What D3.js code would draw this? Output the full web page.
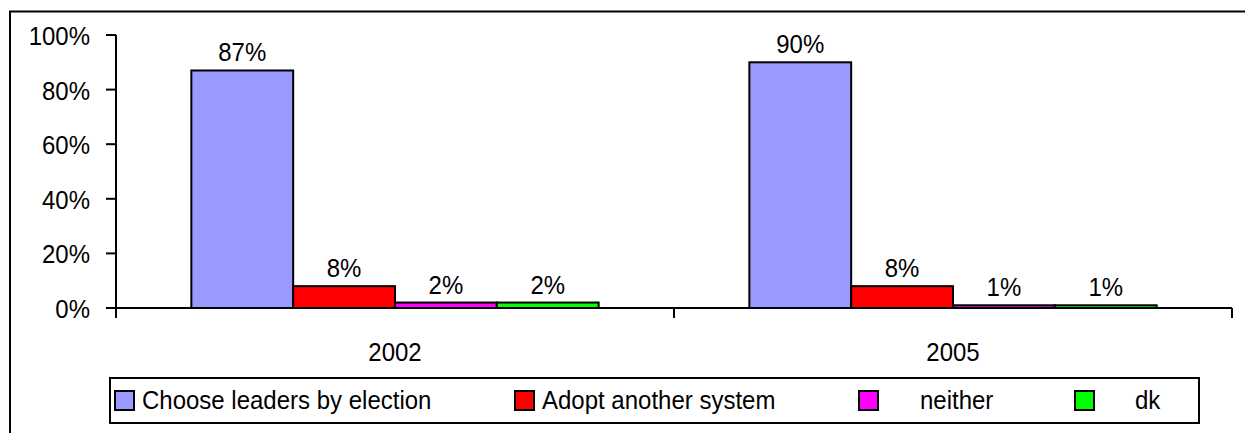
<!DOCTYPE html>
<html>
<head>
<meta charset="utf-8">
<script src="https://cdn.jsdelivr.net/npm/d3@7"></script>
<style>
  body { margin: 0; background: #fff; }
  text { font-family: "Liberation Sans", Arial, sans-serif; fill: #000; }
</style>
</head>
<body>
<div id="plotdiv"></div>
<script>
// Data
var years = ["2002", "2005"];
var seriesNames = ["Choose leaders by election", "Adopt another system", "neither", "dk"];
var seriesColors = ["#9999ff", "#ff0000", "#ff00ff", "#00ff00"];
var values2002 = [87, 8, 2, 2];
var values2005 = [90, 8, 1, 1];
var yTicks = [0, 20, 40, 60, 80, 100];

var valuesByYear = { "2002": values2002, "2005": values2005 };

// Figure size and plot area
var outerWidth = 1245;
var outerHeight = 433;
var plot = { left: 116, right: 1232, top: 35, bottom: 308 };
var fontSize = 24;
var stretch = 1.1;   // the original picture is slightly stretched vertically

var vis = d3.select("#plotdiv").append("svg")
  .attr("width", outerWidth)
  .attr("height", outerHeight);

// Outer frame (only left and top edges visible)
vis.append("path")
  .attr("d", "M10," + outerHeight + "V11.5H" + outerWidth)
  .attr("fill", "none")
  .attr("stroke", "#000")
  .attr("stroke-width", 2);

// Scales
var yScale = d3.scaleLinear().domain([0, 100]).range([plot.bottom, plot.top]);
var x0 = d3.scaleBand().domain(years).range([plot.left, plot.right]);
var x1 = d3.scaleBand().domain(seriesNames).range([0, x0.bandwidth()])
  .paddingInner(0).paddingOuter(0.74);

function stretchedText(sel, x, y) {
  return sel.attr("transform", "translate(" + x + "," + y + ") scale(1," + stretch + ")");
}

// Bars
years.forEach(function (yr) {
  var g = vis.append("g").attr("transform", "translate(" + x0(yr) + ",0)");
  var vals = valuesByYear[yr];
  g.selectAll("rect").data(vals).enter().append("rect")
    .attr("x", function (d, i) { return x1(seriesNames[i]); })
    .attr("y", function (d) { return yScale(d); })
    .attr("width", x1.bandwidth())
    .attr("height", function (d) { return yScale(0) - yScale(d); })
    .attr("fill", function (d, i) { return seriesColors[i]; })
    .attr("stroke", "#000")
    .attr("stroke-width", 2);
  g.selectAll("text.val").data(vals).enter().append("text")
    .attr("class", "val")
    .attr("text-anchor", "middle")
    .style("font-size", fontSize + "px")
    .each(function (d, i) {
      stretchedText(d3.select(this), x1(seriesNames[i]) + x1.bandwidth() / 2, yScale(d) - 9);
    })
    .text(function (d) { return d + "%"; });
});

// Y axis
var yAxis = vis.append("g").attr("transform", "translate(" + plot.left + ",0)");
yAxis.append("line")
  .attr("y1", plot.top).attr("y2", plot.bottom + 10)
  .attr("stroke", "#000").attr("stroke-width", 2);
yAxis.selectAll("line.tick").data(yTicks).enter().append("line")
  .attr("class", "tick")
  .attr("x1", -10).attr("x2", 0)
  .attr("y1", function (d) { return yScale(d); })
  .attr("y2", function (d) { return yScale(d); })
  .attr("stroke", "#000").attr("stroke-width", 2);
yAxis.selectAll("text").data(yTicks).enter().append("text")
  .attr("text-anchor", "end")
  .style("font-size", fontSize + "px")
  .each(function (d) { stretchedText(d3.select(this), -26, yScale(d) + 10); })
  .text(function (d) { return d + "%"; });

// X axis: line with ticks at category boundaries
var xAxis = vis.append("g");
xAxis.append("line")
  .attr("x1", plot.left).attr("x2", plot.right)
  .attr("y1", plot.bottom).attr("y2", plot.bottom)
  .attr("stroke", "#000").attr("stroke-width", 2);
var bounds = years.map(function (d) { return x0(d); }).concat([x0.range()[1]]);
xAxis.selectAll("line.tick").data(bounds).enter().append("line")
  .attr("class", "tick")
  .attr("x1", function (d) { return d; }).attr("x2", function (d) { return d; })
  .attr("y1", plot.bottom).attr("y2", plot.bottom + 10)
  .attr("stroke", "#000").attr("stroke-width", 2);
xAxis.selectAll("text").data(years).enter().append("text")
  .attr("text-anchor", "middle")
  .style("font-size", fontSize + "px")
  .each(function (d) { stretchedText(d3.select(this), x0(d) + x0.bandwidth() / 2, 361); })
  .text(function (d) { return d; });

// Legend
var legendBox = { left: 110, right: 1199, top: 378, bottom: 423 };
var legendSquareX = [115, 515, 859, 1075];
var legendTextGap = [27, 27, 61, 60];
var gLegend = vis.append("g");
gLegend.append("rect")
  .attr("x", legendBox.left).attr("y", legendBox.top)
  .attr("width", legendBox.right - legendBox.left)
  .attr("height", legendBox.bottom - legendBox.top)
  .attr("fill", "#fff").attr("stroke", "#000").attr("stroke-width", 2);
gLegend.selectAll("rect.key").data(seriesNames).enter().append("rect")
  .attr("class", "key")
  .attr("x", function (d, i) { return legendSquareX[i]; })
  .attr("y", 391)
  .attr("width", 19).attr("height", 19)
  .attr("fill", function (d, i) { return seriesColors[i]; })
  .attr("stroke", "#000").attr("stroke-width", 2);
gLegend.selectAll("text").data(seriesNames).enter().append("text")
  .style("font-size", fontSize + "px")
  .each(function (d, i) { stretchedText(d3.select(this), legendSquareX[i] + legendTextGap[i], 408.5); })
  .text(function (d) { return d; });
</script>
</body>
</html>
